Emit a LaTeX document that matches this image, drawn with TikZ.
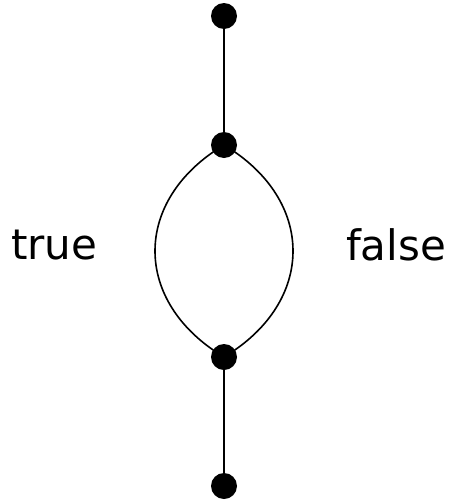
\documentclass[tikz,border=0pt]{standalone}
\usepackage{fontspec}
\setmainfont{DejaVu Sans}
\begin{document}
\begin{tikzpicture}[x=1pt,y=-1pt,
  dot/.style={circle,fill=black,inner sep=0pt,minimum size=26pt},
  lbl/.style={font=\fontsize{42}{50}\selectfont,inner sep=0pt},
  edge/.style={line width=1.6pt}]
\useasboundingbox (0,0) rectangle (448,501);
\node[dot] (a) at (224,16) {};
\node[dot] (b) at (224,145) {};
\node[dot] (c) at (224,357) {};
\node[dot] (d) at (224,486) {};
\draw[edge] (a) -- (b);
\draw[edge] (c) -- (d);
\draw[edge] (b.center) .. controls (132,200) and (132,302) .. (c.center);
\draw[edge] (b.center) .. controls (316,200) and (316,302) .. (c.center);
\node[lbl,anchor=west] (t) at (11,245) {true};
\node[lbl,anchor=west] (f) at (346,245) {false};
\end{tikzpicture}
\end{document}
